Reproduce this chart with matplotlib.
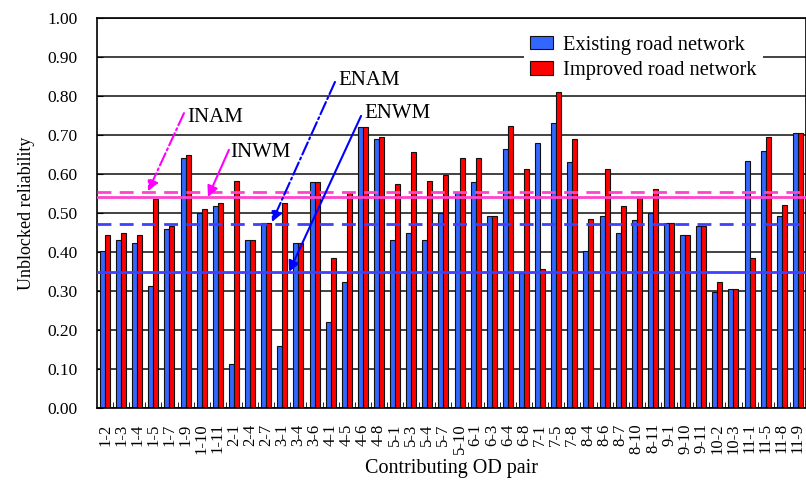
import numpy as np
import matplotlib
matplotlib.use('Agg')
import matplotlib.pyplot as plt

plt.rcParams['font.family'] = ['Liberation Serif', 'DejaVu Serif']

od_pairs = ['1-2', '1-3', '1-4', '1-5', '1-7', '1-9', '1-10', '1-11', '2-1', '2-4',
            '2-7', '3-1', '3-4', '3-6', '4-1', '4-5', '4-6', '4-8', '5-1', '5-3',
            '5-4', '5-7', '5-10', '6-1', '6-3', '6-4', '6-8', '7-1', '7-5', '7-8',
            '8-4', '8-6', '8-7', '8-10', '8-11', '9-1', '9-10', '9-11', '10-2', '10-3',
            '11-1', '11-5', '11-8', '11-9']
existing = [0.403, 0.432, 0.423, 0.313, 0.459, 0.640, 0.499, 0.519, 0.112, 0.432,
            0.475, 0.160, 0.423, 0.579, 0.220, 0.322, 0.721, 0.689, 0.432, 0.450,
            0.432, 0.499, 0.552, 0.579, 0.492, 0.663, 0.346, 0.679, 0.732, 0.630,
            0.403, 0.492, 0.450, 0.483, 0.499, 0.475, 0.444, 0.466, 0.297, 0.305,
            0.634, 0.658, 0.492, 0.706]
improved = [0.443, 0.450, 0.443, 0.536, 0.466, 0.650, 0.509, 0.526, 0.582, 0.432,
            0.475, 0.526, 0.423, 0.579, 0.385, 0.552, 0.721, 0.696, 0.574, 0.657,
            0.582, 0.597, 0.641, 0.641, 0.492, 0.722, 0.612, 0.356, 0.809, 0.689,
            0.484, 0.612, 0.519, 0.542, 0.561, 0.475, 0.444, 0.466, 0.322, 0.305,
            0.385, 0.696, 0.521, 0.706]

# average / weighted mean reference lines
inam, inwm = 0.553, 0.540
enam, enwm = 0.473, 0.349

fig = plt.figure(figsize=(8.06, 4.8), dpi=100)
ax = fig.add_axes([0.1203, 0.15, 0.8797, 0.8125])

x = np.arange(len(od_pairs))
w = 0.31
ax.bar(x - w / 2, existing, w, color='#3366ff', edgecolor='#111111', lw=0.8,
       label='Existing road network', zorder=2)
ax.bar(x + w / 2, improved, w, color='#ff0000', edgecolor='#111111', lw=0.8,
       label='Improved road network', zorder=2)

ax.axhline(inam, color='#ff44cc', ls=(0, (5, 3)), lw=2, zorder=3)
ax.axhline(inwm, color='#ff44cc', ls='-', lw=2, zorder=3)
ax.axhline(enam, color='#4040ff', ls=(0, (5, 3)), lw=2, zorder=3)
ax.axhline(enwm, color='#4040ff', ls='-', lw=2, zorder=3)

notes = [('INAM', (5.09, 0.746), (4.90, 0.756), (2.67, 0.556), '#ff00ff', '-.'),
         ('INWM', (7.76, 0.656), (7.69, 0.662), (6.39, 0.541), '#ff00ff', '-'),
         ('ENAM', (14.46, 0.841), (14.27, 0.836), (10.36, 0.477), '#0000ff', '-.'),
         ('ENWM', (16.07, 0.756), (15.89, 0.749), (11.42, 0.349), '#0000ff', '-')]
for txt, tpos, start, tip, col, ls in notes:
    ax.text(tpos[0], tpos[1], txt, fontsize=15, ha='left', va='center', zorder=5)
    ax.annotate('', xy=tip, xytext=start, zorder=4,
                arrowprops=dict(arrowstyle='-|>', color=col, lw=1.5, ls=ls,
                                mutation_scale=16, shrinkA=0, shrinkB=0))

ax.set_xlim(-0.5, len(od_pairs) - 0.5)
ax.set_ylim(0, 1.0)
ax.set_yticks(np.arange(0, 1.01, 0.1))
ax.set_yticklabels(['%.2f' % v for v in np.arange(0, 1.01, 0.1)], fontsize=12.5)
ax.set_xticks(x)
ax.set_xticklabels(od_pairs, rotation=90, fontsize=12)
ax.set_xticks(np.arange(0.5, len(od_pairs) - 0.5, 1), minor=True)
ax.tick_params(axis='x', which='major', length=0, pad=11)
ax.tick_params(axis='x', which='minor', direction='in', length=4)
ax.tick_params(axis='y', direction='in', length=4, pad=14)
ax.yaxis.grid(True, color='#222222', lw=1.2, zorder=0)
ax.set_axisbelow(True)
for s in ax.spines.values():
    s.set_linewidth(1.2)

ax.set_ylabel('Unblocked reliability', fontsize=13, labelpad=9)
ax.set_xlabel('Contributing OD pair', fontsize=14.5, labelpad=4)

leg = ax.legend(loc='center', bbox_to_anchor=(0.771, 0.897), fontsize=14.8,
                frameon=True, fancybox=False, edgecolor='none', framealpha=1,
                handlelength=1.1, handleheight=0.6, handletextpad=0.5,
                labelspacing=0.3, borderpad=0.3)

plt.savefig('out.png', dpi=100)
